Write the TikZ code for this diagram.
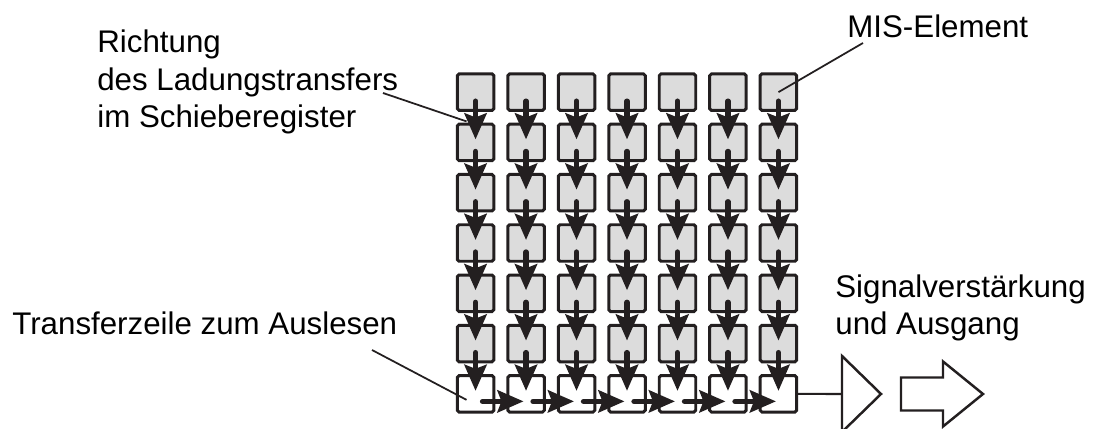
\documentclass[tikz,border=0pt]{standalone}
\usepackage{fontspec}
\setmainfont{Liberation Sans}
\usepackage{tikz}
\usetikzlibrary{matrix,arrows.meta}
\definecolor{ink}{HTML}{231F20}
\definecolor{cellgray}{HTML}{DCDCDC}

\begin{document}
\begin{tikzpicture}[font=\fontsize{17.8}{21.6}\selectfont,
grid/.style={matrix of nodes, nodes={draw=ink, line width=1.7pt, rounded corners=1pt, minimum size=7.3mm, inner sep=0pt, fill=cellgray}, column sep=2.2mm, row sep=2.16mm, nodes in empty cells,
row 7/.style={nodes={fill=white}}},
flow/.style={draw=ink, line width=3pt, line cap=round, -{Stealth[length=5.2mm,width=4.4mm,inset=0.8mm]}},
outline/.style={draw=ink, line width=1.4pt, fill=white},
leader/.style={draw=ink, line width=1pt},
label/.style={anchor=base west, inner sep=0pt, align=left}]

\useasboundingbox (0,0) rectangle (21.86,8.58);

\matrix[grid] (g) at (12.54,3.72) {
 & & & & & & \\
 & & & & & & \\
 & & & & & & \\
 & & & & & & \\
 & & & & & & \\
 & & & & & & \\
 & & & & & & \\};

\foreach \col in {1,...,7}
  \foreach \row [count=\next from 2] in {1,...,6}
    \draw[flow] ([yshift=-1.8mm]g-\row-\col.center) -- ([yshift=0.6mm]g-\next-\col.center);
\foreach \col [count=\next from 2] in {1,...,6}
  \draw[flow] ([xshift=1.4mm,yshift=-1.5mm]g-7-\col.center) -- ([xshift=-0.5mm,yshift=-1.5mm]g-7-\next.center);

\coordinate (amp) at (16.84,0.70);
\draw[ink, line width=1.2pt] (g-7-7.east) -- (amp);
\draw[outline] ([yshift=7.6mm]amp) -- ([xshift=7.8mm]amp) -- ([yshift=-7.6mm]amp) -- cycle;

\coordinate (out) at (18.02,0.70);
\draw[outline] ([yshift=3.3mm]out) -- ([shift={(8.4mm,3.3mm)}]out) -- ([shift={(8.4mm,6.5mm)}]out)
  -- ([xshift=16.4mm]out) -- ([shift={(8.4mm,-6.5mm)}]out) -- ([shift={(8.4mm,-3.3mm)}]out)
  -- ([yshift=-3.3mm]out) -- cycle;

\node[label] (dir) at (1.94,6.02) {Richtung\\des Ladungstransfers\\im Schieberegister};
\node[label] (mis) at (16.94,7.82) {MIS-Element};
\node[label] (tz) at (0.24,1.88) {Transferzeile zum Auslesen};
\node[label] (sig) at (16.70,1.88) {Signalverstärkung\\und Ausgang};

\coordinate (dir-ref) at (7.66,6.72);
\coordinate (mis-ref) at (17.26,7.72);
\coordinate (tz-ref) at (7.44,1.58);
\draw[leader] (dir-ref) -- ([xshift=-1.8mm,yshift=4.2mm]g-2-1.center);
\draw[leader] (mis-ref) -- (g-1-7.center);
\draw[leader] (tz-ref) -- ([xshift=-1.8mm,yshift=-1.2mm]g-7-1.center);
\end{tikzpicture}
\end{document}
